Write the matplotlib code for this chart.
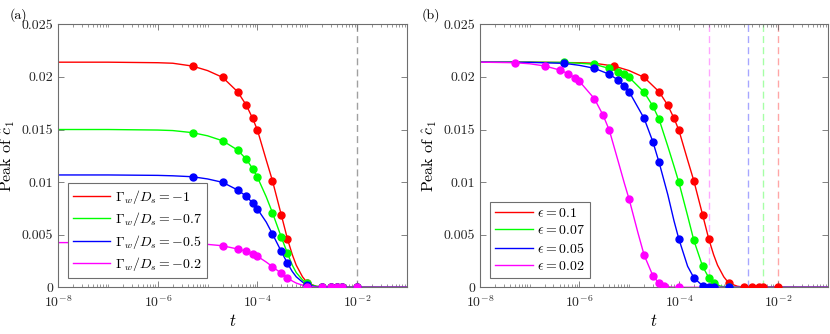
import matplotlib
matplotlib.use("Agg")
import matplotlib.pyplot as plt
from matplotlib.ticker import FixedLocator, NullFormatter, LogLocator

plt.rcParams["font.family"] = "serif"
plt.rcParams["font.serif"] = ["cmr10"]
plt.rcParams["mathtext.fontset"] = "cm"
plt.rcParams["axes.formatter.use_mathtext"] = True
plt.rcParams["axes.unicode_minus"] = False

# ---- panel (a): varying Gamma_w / D_s ----
labels_a = [r"$\Gamma_w/D_s = -1$", r"$\Gamma_w/D_s = -0.7$",
            r"$\Gamma_w/D_s = -0.5$", r"$\Gamma_w/D_s = -0.2$"]

line_t = [1e-8, 1e-7, 1e-6, 2e-6, 5e-6, 1e-5, 2e-5, 4e-5, 6e-5, 8e-5, 1e-4,
          1.5e-4, 2e-4, 3e-4, 4e-4, 5e-4, 6e-4, 8e-4, 1e-3, 1.5e-3, 2e-3, 1e-1]
line_red = [0.0214, 0.0214, 0.02135, 0.0213, 0.02103, 0.0206, 0.01996, 0.01859, 0.0173,
            0.01606, 0.01494, 0.0121, 0.01013, 0.0069, 0.00459, 0.0031, 0.0021, 0.001,
            0.00042, 0.0001, 0.00002, 0.0]
line_a_green = [0.0150, 0.0150, 0.01495, 0.0149, 0.0147, 0.0144, 0.01393, 0.01305, 0.01217,
                0.01128, 0.01046, 0.0086, 0.00709, 0.00478, 0.00323, 0.0021, 0.0014, 0.0007,
                0.00035, 0.0001, 0.00002, 0.0]
line_a_blue = [0.01068, 0.01068, 0.01064, 0.0106, 0.01051, 0.0103, 0.00998, 0.00925, 0.00865,
               0.00801, 0.00744, 0.0062, 0.00507, 0.00342, 0.00228, 0.0015, 0.001, 0.0005,
               0.00022, 0.00005, 0.0, 0.0]
line_a_mag = [0.00425, 0.00425, 0.00423, 0.0042, 0.00415, 0.00408, 0.00395, 0.00364, 0.00342,
              0.00319, 0.00295, 0.0024, 0.00196, 0.00133, 0.00088, 0.0006, 0.0004, 0.0002,
              0.0001, 0.00002, 0.0, 0.0]

mark_t = [5e-6, 2e-5, 4e-5, 6e-5, 8e-5, 1e-4, 2e-4, 3e-4, 4e-4, 1e-3, 2e-3, 3e-3, 4e-3, 5e-3, 1e-2]
mark_red = [0.02105, 0.01996, 0.01859, 0.0173, 0.01606, 0.01494, 0.01013, 0.0069, 0.00459,
            0.00042, 0, 0, 0, 0, 0]
mark_a_green = [0.0147, 0.01393, 0.01305, 0.01217, 0.01128, 0.01046, 0.00709, 0.00478, 0.00323,
                0.00038, 0, 0, 0, 0, 0]
mark_a_blue = [0.01051, 0.00998, 0.00925, 0.00865, 0.00801, 0.00744, 0.00507, 0.00342, 0.00228,
               0.00022, 0, 0, 0, 0, 0]
mark_a_mag = [0.00415, 0.00395, 0.00364, 0.00342, 0.00319, 0.00295, 0.00196, 0.00133, 0.00088,
              0.00006, 0, 0, 0, 0, 0]
tstar_a = 1e-2

# ---- panel (b): varying epsilon ----
labels_b = [r"$\epsilon = 0.1$", r"$\epsilon = 0.07$", r"$\epsilon = 0.05$", r"$\epsilon = 0.02$"]

line_b_t = [1e-8, 1e-7, 5e-7, 1e-6, 2e-6, 4e-6, 6e-6, 8e-6, 1e-5, 2e-5, 3e-5, 4e-5, 6e-5,
            8e-5, 1e-4, 1.5e-4, 2e-4, 3e-4, 4e-4, 5e-4, 7e-4, 1e-3, 1e-1]
line_b_green = [0.0214, 0.0214, 0.02138, 0.0213, 0.0212, 0.0208, 0.0205, 0.02025, 0.01996,
                0.01854, 0.01723, 0.01597, 0.0134, 0.0115, 0.00998, 0.0068, 0.00447, 0.002,
                0.00091, 0.00038, 0.0001, 0.00002, 0.0]
line_b_blue = [0.0214, 0.02138, 0.02129, 0.0211, 0.02082, 0.02025, 0.0197, 0.01916, 0.01859,
               0.01606, 0.01384, 0.01188, 0.0088, 0.0063, 0.00459, 0.002, 0.00091, 0.00015,
               0.00003, 0.0, 0.0, 0.0, 0.0]
line_b_mag_t = [1e-8, 2e-8, 5e-8, 1e-7, 2e-7, 4e-7, 6e-7, 8e-7, 1e-6, 2e-6, 3e-6, 4e-6, 6e-6,
                8e-6, 1e-5, 1.5e-5, 2e-5, 3e-5, 4e-5, 5e-5, 7e-5, 1e-4, 1e-1]
line_b_mag = [0.0214, 0.02138, 0.02135, 0.02125, 0.02104, 0.02066, 0.0203, 0.01993, 0.01958,
              0.01793, 0.01635, 0.01492, 0.012, 0.0099, 0.00837, 0.0052, 0.00307, 0.0011,
              0.00038, 0.00012, 0.00002, 0.0, 0.0]

mark_b_t = [5e-7, 2e-6, 4e-6, 6e-6, 8e-6, 1e-5, 2e-5, 3e-5, 4e-5, 1e-4, 2e-4, 3e-4, 4e-4, 5e-4, 1e-3]
mark_b_green = [0.02138, 0.0212, 0.0208, 0.0205, 0.02025, 0.01996, 0.01854, 0.01723, 0.01597,
                0.00998, 0.00447, 0.002, 0.00091, 0.00038, 0]
mark_b_blue = [0.02129, 0.02082, 0.02025, 0.0197, 0.01916, 0.01859, 0.01606, 0.01384, 0.01188,
               0.00459, 0.00091, 0.00015, 0.00003, 0, 0]
mark_b_mag_t = [5e-8, 2e-7, 4e-7, 6e-7, 8e-7, 1e-6, 2e-6, 3e-6, 4e-6, 1e-5, 2e-5, 3e-5, 4e-5, 5e-5, 1e-4]
mark_b_mag = [0.02135, 0.02104, 0.02066, 0.0203, 0.01993, 0.01958, 0.01793, 0.01635, 0.01492,
              0.00837, 0.00307, 0.0011, 0.00038, 0.00012, 0]
tstar_b = [1e-2, 4.9e-3, 2.5e-3, 4e-4]

colors = ["#ff0000", "#00ff00", "#0000ff", "#ff00ff"]
yticks = [0, 0.005, 0.01, 0.015, 0.02, 0.025]
yticklabels = ["0", "0.005", "0.01", "0.015", "0.02", "0.025"]
frame = "#6e6e6e"


def style_axes(ax):
    ax.set_xscale("log")
    ax.set_xlim(1e-8, 1e-1)
    ax.set_ylim(0, 0.025)
    ax.set_yticks(yticks)
    ax.set_yticklabels(yticklabels)
    ax.xaxis.set_major_locator(FixedLocator([1e-8, 1e-6, 1e-4, 1e-2]))
    ax.xaxis.set_minor_locator(LogLocator(base=10, subs=range(1, 10), numticks=30))
    ax.xaxis.set_minor_formatter(NullFormatter())
    ax.tick_params(which="both", direction="in", top=True, right=True,
                   colors=frame, labelcolor="#262626", labelsize=10)
    ax.tick_params(which="major", length=4, width=0.6)
    ax.tick_params(axis="x", which="major", pad=5)
    ax.tick_params(which="minor", length=2.2, width=0.5)
    for s in ax.spines.values():
        s.set_color(frame)
        s.set_linewidth(0.8)
    ax.set_xlabel(r"$t$", fontsize=12, labelpad=2)
    ax.set_ylabel(r"Peak of $\hat{c}_1$", fontsize=11.5, labelpad=3)


def add_legend(ax, x0):
    leg = ax.legend(loc="lower left", bbox_to_anchor=(x0, 0.035), borderaxespad=0,
                    fontsize=10, fancybox=False, framealpha=1, edgecolor=frame,
                    handlelength=2.7, labelspacing=0.32, borderpad=0.35, handletextpad=0.3)
    leg.get_frame().set_linewidth(0.8)


fig = plt.figure(figsize=(8.3, 3.34), dpi=100)
ax_a = fig.add_axes([0.0699, 0.1398, 0.4205, 0.7874])
ax_b = fig.add_axes([0.5783, 0.1398, 0.4193, 0.7874])

# panel (a)
ax_a.axvline(tstar_a, color="#a0a0a0", ls=(0, (5, 3)), lw=1.0, zorder=1)
lines_a = [line_red, line_a_green, line_a_blue, line_a_mag]
marks_a = [mark_red, mark_a_green, mark_a_blue, mark_a_mag]
for c, lab, ly, my in zip(colors, labels_a, lines_a, marks_a):
    ax_a.plot(line_t, ly, color=c, lw=1.0, label=lab, zorder=2)
    ax_a.plot(mark_t, my, "o", color=c, ms=5, zorder=3)
style_axes(ax_a)
add_legend(ax_a, 0.029)

# panel (b)
for c, ts in zip(colors, tstar_b):
    ax_b.axvline(ts, color=c, alpha=0.35, ls=(0, (5, 3)), lw=1.0, zorder=1)
b_series = [
    (line_t, line_red, mark_t, mark_red),
    (line_b_t, line_b_green, mark_b_t, mark_b_green),
    (line_b_t, line_b_blue, mark_b_t, mark_b_blue),
    (line_b_mag_t, line_b_mag, mark_b_mag_t, mark_b_mag),
]
for c, lab, (lt, ly, mt, my) in zip(colors, labels_b, b_series):
    ax_b.plot(lt, ly, color=c, lw=1.0, label=lab, zorder=2)
    ax_b.plot(mt, my, "o", color=c, ms=5, zorder=3)
style_axes(ax_b)
add_legend(ax_b, 0.03)

fig.text(0.012, 0.975, "(a)", fontsize=10, va="top", ha="left")
fig.text(0.508, 0.975, "(b)", fontsize=10, va="top", ha="left")

fig.savefig("out.png", dpi=100)
